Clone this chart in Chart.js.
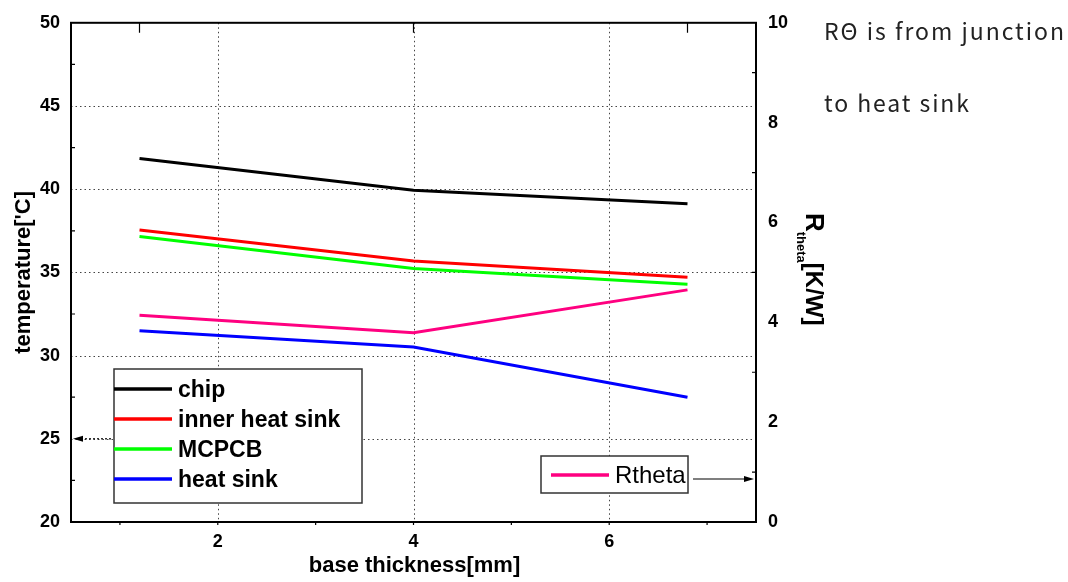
<!DOCTYPE html>
<html lang="en">
<head>
<meta charset="utf-8">
<title>Base thickness vs temperature</title>
<script src="https://cdn.jsdelivr.net/npm/chart.js"></script>
<style>
  html, body { margin: 0; padding: 0; background: #fff; }
  #wrap { width: 1068px; height: 582px; }
</style>
</head>
<body>
<div id="wrap"><canvas id="thermalChart" width="1068" height="582"></canvas></div>
<script>
// values
const thickness = [1.2, 4, 6.8];            // base thickness [mm]
const chipTemp = [41.85, 39.94, 39.13];
const innerSinkTemp = [37.55, 35.69, 34.71];
const mcpcbTemp = [37.16, 35.23, 34.29];
const heatSinkTemp = [31.49, 30.52, 27.50];
const rTheta = [4.14, 3.79, 4.65];          // K/W, right axis

const xTicks = [2, 4, 6];
const xMinor = [1, 2, 3, 4, 5, 6, 7];
const tempTicks = [20, 25, 30, 35, 40, 45, 50];
const tempMinor = [22.5, 27.5, 32.5, 37.5, 42.5, 47.5];
const rTicks = [0, 2, 4, 6, 8, 10];
const rMinor = [1, 3, 5, 7, 9];

const tempNames = ['chip', 'inner heat sink', 'MCPCB', 'heat sink'];
const tempColors = ['#000000', '#ff0000', '#00ff00', '#0000ff'];
const rName = 'Rtheta';
const rColor = '#ff0080';

const SANS = '"Liberation Sans", Arial, sans-serif';
const tickFont = { family: SANS, size: 18, weight: 'bold' };

const pts = ys => thickness.map((t, i) => ({ x: t, y: ys[i] }));
const tempData = [chipTemp, innerSinkTemp, mcpcbTemp, heatSinkTemp];

const datasets = [{
  label: rName, data: pts(rTheta), yAxisID: 'y1',
  borderColor: rColor, borderWidth: 3, pointRadius: 0, fill: false
}].concat(tempNames.map((n, i) => ({
  label: n, data: pts(tempData[i]), yAxisID: 'y',
  borderColor: tempColors[i], borderWidth: 3, pointRadius: 0, fill: false
})));

function setTicks(list) {
  return s => { s.ticks = list.map(v => ({ value: v })); };
}

function arrow(ctx, x1, x2, y, dashed) {
  ctx.save();
  ctx.strokeStyle = '#000'; ctx.fillStyle = '#000'; ctx.lineWidth = 1.2;
  if (dashed) ctx.setLineDash([2, 2]);
  const dir = Math.sign(x2 - x1);
  ctx.beginPath(); ctx.moveTo(x1, y); ctx.lineTo(x2 - dir * 8, y); ctx.stroke();
  ctx.setLineDash([]);
  ctx.beginPath();
  ctx.moveTo(x2, y); ctx.lineTo(x2 - dir * 10, y - 3); ctx.lineTo(x2 - dir * 10, y + 3);
  ctx.closePath(); ctx.fill();
  ctx.restore();
}

function spaced(ctx, str, x, y, width) {
  ctx.letterSpacing = '0px';
  const w = ctx.measureText(str).width;
  ctx.letterSpacing = ((width - w) / (str.length - 1)) + 'px';
  ctx.fillText(str, x, y);
  ctx.letterSpacing = '0px';
}

const decor = {
  id: 'decor',
  beforeDatasetsDraw(chart) {
    const { ctx, chartArea: a, scales: { x, y } } = chart;
    ctx.save();
    ctx.strokeStyle = '#444'; ctx.lineWidth = 1; ctx.setLineDash([1.5, 3]);
    xTicks.forEach(v => {
      const px = Math.round(x.getPixelForValue(v)) + 0.5;
      ctx.beginPath(); ctx.moveTo(px, a.top); ctx.lineTo(px, a.bottom); ctx.stroke();
    });
    tempTicks.slice(1, -1).forEach(v => {
      const py = Math.round(y.getPixelForValue(v)) + 0.5;
      ctx.beginPath(); ctx.moveTo(a.left, py); ctx.lineTo(a.right, py); ctx.stroke();
    });
    ctx.restore();
  },
  afterDatasetsDraw(chart) {
    const { ctx, chartArea: a, scales: { x, y, y1 } } = chart;
    const ds = chart.data.datasets;
    ctx.save();
    // frame
    ctx.strokeStyle = '#000'; ctx.lineWidth = 2;
    ctx.strokeRect(a.left, a.top, a.right - a.left, a.bottom - a.top);
    // tick marks
    ctx.lineWidth = 1.2;
    ctx.beginPath();
    xMinor.forEach(v => { const px = x.getPixelForValue(v); ctx.moveTo(px, a.bottom); ctx.lineTo(px, a.bottom + 3); });
    thickness.forEach(v => { const px = x.getPixelForValue(v); ctx.moveTo(px, a.top); ctx.lineTo(px, a.top + 10); });
    tempMinor.forEach(v => { const py = y.getPixelForValue(v); ctx.moveTo(a.left, py); ctx.lineTo(a.left + 4, py); });
    rMinor.forEach(v => { const py = y1.getPixelForValue(v); ctx.moveTo(a.right, py); ctx.lineTo(a.right - 4, py); });
    ctx.stroke();

    // temperature legend
    ctx.fillStyle = '#fff'; ctx.fillRect(114, 369, 248, 134);
    ctx.strokeStyle = '#333'; ctx.lineWidth = 1.5; ctx.strokeRect(114, 369, 248, 134);
    ctx.font = 'bold 23px ' + SANS; ctx.textBaseline = 'alphabetic'; ctx.textAlign = 'left';
    ds.filter(d => d.yAxisID === 'y').forEach((d, i) => {
      const ly = 389 + i * 30;
      ctx.strokeStyle = d.borderColor; ctx.lineWidth = 3.5;
      ctx.beginPath(); ctx.moveTo(114, ly); ctx.lineTo(172, ly); ctx.stroke();
      ctx.fillStyle = '#000'; ctx.fillText(d.label, 178, ly + 8);
    });
    // R legend
    ctx.fillStyle = '#fff'; ctx.fillRect(541, 456, 147, 37);
    ctx.strokeStyle = '#333'; ctx.lineWidth = 1.5; ctx.strokeRect(541, 456, 147, 37);
    const rd = ds.find(d => d.yAxisID === 'y1');
    ctx.strokeStyle = rd.borderColor; ctx.lineWidth = 3.5;
    ctx.beginPath(); ctx.moveTo(551, 475); ctx.lineTo(609, 475); ctx.stroke();
    ctx.fillStyle = '#000'; ctx.font = '24px ' + SANS; ctx.fillText(rd.label, 615, 483);

    // axis pointers
    arrow(ctx, 111, a.left + 2, y.getPixelForValue(25), true);
    arrow(ctx, 693, a.right - 2, 479, false);

    // axis titles
    ctx.fillStyle = '#000';
    ctx.font = 'bold 22px ' + SANS; ctx.textAlign = 'center'; ctx.textBaseline = 'middle';
    ctx.fillText('base thickness[mm]', (a.left + a.right) / 2 + 1, 566);
    ctx.save();
    ctx.translate(24, (a.top + a.bottom) / 2);
    ctx.rotate(-Math.PI / 2);
    ctx.fillText("temperature['C]", 0, 0);
    ctx.restore();

    ctx.save();
    ctx.translate(806, 213);
    ctx.rotate(Math.PI / 2);
    ctx.textAlign = 'left'; ctx.textBaseline = 'alphabetic';
    ctx.font = 'bold 26px ' + SANS;
    ctx.fillText('R', 0, 0);
    let cx = ctx.measureText('R').width;
    ctx.font = 'bold 13px ' + SANS;
    ctx.fillText('theta', cx, 9);
    cx += ctx.measureText('theta').width;
    ctx.font = 'bold 24px ' + SANS;
    ctx.fillText('[K/W]', cx, 0);
    ctx.restore();

    // note
    ctx.fillStyle = '#222'; ctx.font = '23px "Noto Sans CJK KR", "Noto Sans", sans-serif';
    ctx.textAlign = 'left'; ctx.textBaseline = 'middle';
    spaced(ctx, 'R\u0398 is from junction', 824, 31, 240);
    spaced(ctx, 'to heat sink', 824, 103, 145);
    ctx.restore();
  }
};

new Chart(document.getElementById('thermalChart'), {
  type: 'line',
  data: { datasets: datasets },
  options: {
    responsive: false,
    animation: false,
    layout: { padding: { top: 19, left: 0, right: 0, bottom: 0 } },
    plugins: { legend: { display: false }, tooltip: { enabled: false } },
    elements: { line: { tension: 0 } },
    scales: {
      x: {
        type: 'linear', min: 0.5, max: 7.5,
        afterBuildTicks: setTicks(xTicks),
        afterFit: s => { s.height = 60; },
        grid: { display: false, drawTicks: false }, border: { display: false },
        ticks: { font: tickFont, color: '#000', padding: 9 }
      },
      y: {
        position: 'left', min: 20, max: 50,
        afterBuildTicks: setTicks(tempTicks),
        afterFit: s => { s.width = 71; },
        grid: { display: false, drawTicks: false }, border: { display: false },
        ticks: { font: tickFont, color: '#000', padding: 11 }
      },
      y1: {
        position: 'right', min: 0, max: 10,
        afterBuildTicks: setTicks(rTicks),
        afterFit: s => { s.width = 312; },
        grid: { display: false, drawTicks: false }, border: { display: false },
        ticks: { font: tickFont, color: '#000', padding: 12 }
      }
    }
  },
  plugins: [decor]
});
</script>
</body>
</html>
